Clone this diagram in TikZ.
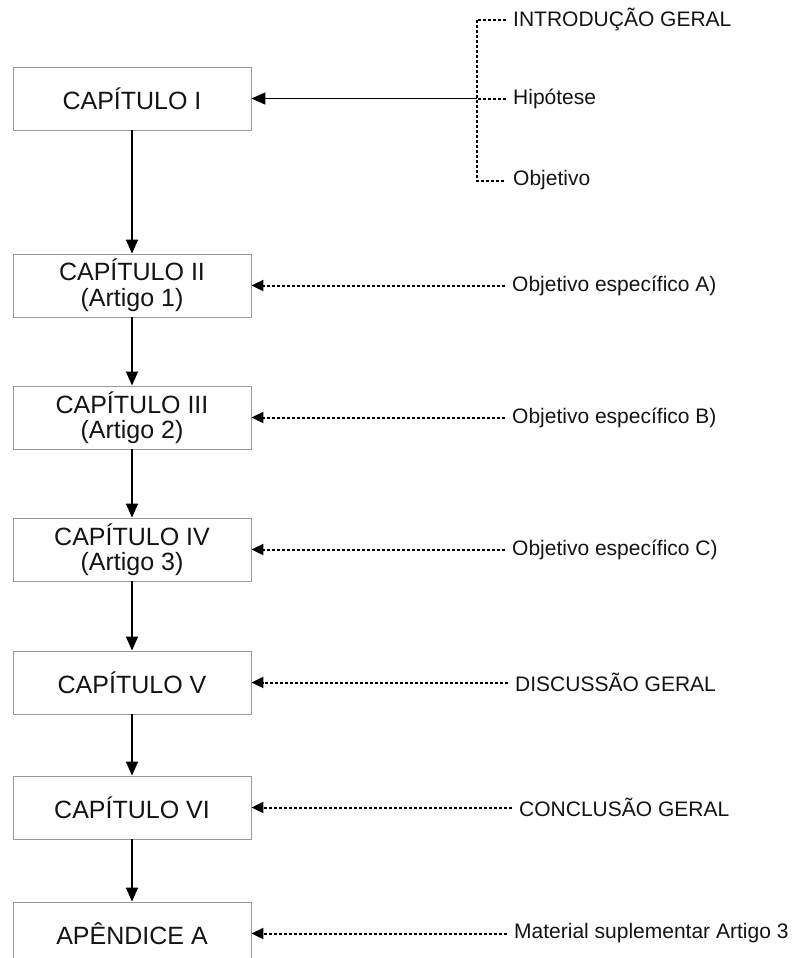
\documentclass[tikz,border=0pt]{standalone}
\usepackage{fontspec}
\setmainfont{Liberation Sans}
\usetikzlibrary{arrows.meta}

\begin{document}
\begin{tikzpicture}[x=1bp,y=-1bp,
  chapbox/.style={draw=black!40, line width=0.9bp, minimum width=238bp, minimum height=63bp,
    inner sep=0pt, align=center, text=black!92,
    font=\fontsize{25bp}{25.5bp}\selectfont},
  sidelabel/.style={anchor=west, inner xsep=7bp, inner ysep=0pt, text=black!92,
    font=\fontsize{21bp}{24bp}\selectfont},
  flow/.style={line width=1.7bp, -{Triangle[width=12bp,length=14bp]}},
  dots/.style={line width=2bp, dash pattern=on 3bp off 2bp},
  dotarrow/.style={dots, -{Triangle[width=11bp,length=12bp]}}
]
\clip (0,0) rectangle (803,958);
\fill[white] (0,0) rectangle (803,958);

% chapter column
\node[chapbox] (c1) at (132,98.5) {CAPÍTULO I};
\node[chapbox] (c2) at (132,285.5) {CAPÍTULO II\\(Artigo 1)};
\node[chapbox] (c3) at (132,417.5) {CAPÍTULO III\\(Artigo 2)};
\node[chapbox] (c4) at (132,549.5) {CAPÍTULO IV\\(Artigo 3)};
\node[chapbox] (c5) at (132,682.5) {CAPÍTULO V};
\node[chapbox] (c6) at (132,807.5) {CAPÍTULO VI};
\node[chapbox] (ap) at (132,933.5) {APÊNDICE A};

\draw[flow] (c1) -- (c2);
\draw[flow] (c2) -- (c3);
\draw[flow] (c3) -- (c4);
\draw[flow] (c4) -- (c5);
\draw[flow] (c5) -- (c6);
\draw[flow] (c6) -- (ap);

% introduction bracket
\node[sidelabel] (intro) at (506,19.5) {INTRODUÇÃO GERAL};
\node[sidelabel] (hip) at (506,98.5) {Hipótese};
\node[sidelabel] (obj) at (506,180.5) {Objetivo};
\coordinate (jn) at (476.5,98.5);
\draw[dots] (intro.west) -- (intro.west -| jn) |- (obj.west);
\draw[dots] (hip.west) -- (jn);
\draw[flow] (jn) -- (c1.east);

% side labels for the remaining chapters
\node[sidelabel] (oa) at (505,285.5) {Objetivo específico A)};
\node[sidelabel] (ob) at (505,417.5) {Objetivo específico B)};
\node[sidelabel] (oc) at (505,549.5) {Objetivo específico C)};
\node[sidelabel] (dg) at (508,682.5) {DISCUSSÃO GERAL};
\node[sidelabel] (cg) at (512,807.5) {CONCLUSÃO GERAL};
\node[sidelabel] (ms) at (507,933.5) {Material suplementar Artigo 3};

\draw[dotarrow] (oa.west) -- (c2.east);
\draw[dotarrow] (ob.west) -- (c3.east);
\draw[dotarrow] (oc.west) -- (c4.east);
\draw[dotarrow] (dg.west) -- (c5.east);
\draw[dotarrow] (cg.west) -- (c6.east);
\draw[dotarrow] (ms.west) -- (ap.east);
\end{tikzpicture}
\end{document}
